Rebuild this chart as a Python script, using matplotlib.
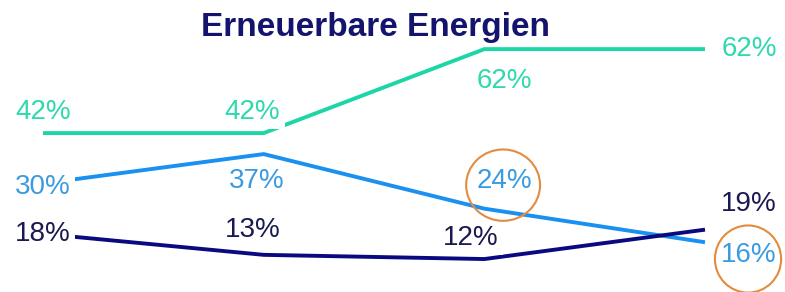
import matplotlib.pyplot as plt
from matplotlib.patches import Ellipse

plt.rcParams['font.family'] = ['Liberation Sans', 'DejaVu Sans']

# data
periods = [0, 1, 2, 3]
teal_vals = [42, 42, 62, 62]
blue_vals = [30, 37, 24, 16]
navy_vals = [18, 13, 12, 19]

# label offsets (x in categories, y in %-points) relative to each point
teal_off = [(0.0, 5.0), (-0.05, 5.0), (0.09, -7.5), (0.2, 0.0)]
blue_off = [(0.0, -0.8), (-0.03, -6.5), (0.09, 6.6), (0.2, -3.0)]
navy_off = [(0.0, 0.0), (-0.05, 6.0), (-0.06, 5.0), (0.2, 6.0)]

teal_line, teal_txt = '#1CD6A6', '#2ED9AE'
blue_line, blue_txt = '#1A90F0', '#3A9BE0'
navy_line, navy_txt = '#0A0A80', '#1A1A50'

px = 1/100
fig = plt.figure(figsize=(785*px, 292*px), dpi=100)
ax = fig.add_axes([0, 0, 1, 1])
ax.set_xlim(-0.195, 3.3625)
ax.set_ylim(4.15, 73.7)
ax.axis('off')


def draw_series(vals, offs, lc, tc):
    ax.plot(periods, vals, color=lc, lw=2.8, solid_capstyle='butt', zorder=2)
    for x, v, (dx, dy) in zip(periods, vals, offs):
        ax.text(x + dx, v + dy, f'{v}%', ha='center', va='center', size=20,
                color=tc, zorder=3,
                bbox=dict(boxstyle='square,pad=0.15', fc='white', ec='none'))


draw_series(teal_vals, teal_off, teal_line, teal_txt)
draw_series(blue_vals, blue_off, blue_line, blue_txt)
draw_series(navy_vals, navy_off, navy_line, navy_txt)

# orange highlight circles around 24% and 16%
circles = [(2, blue_vals[2], blue_off[2], 0.335, 17.0),
           (3, blue_vals[3], blue_off[3], 0.30, 16.0)]
for x, v, (dx, dy), w, h in circles:
    ax.add_patch(Ellipse((x + dx - 0.005, v + dy - 1.0), w, h, fill=False,
                         ec='#E38B3F', lw=1.5, zorder=4))

fig.text(0.478, 0.877, 'Erneuerbare Energien', ha='center', va='baseline',
         size=24, weight='bold', color='#14146E')

fig.savefig('out.png', dpi=100)
